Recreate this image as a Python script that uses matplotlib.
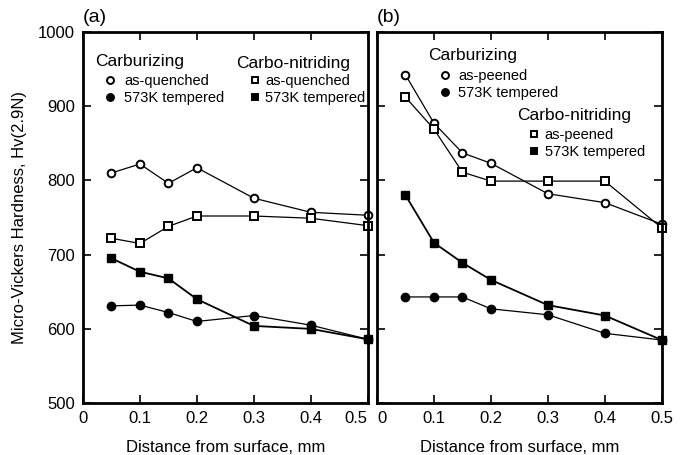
import numpy as np
import matplotlib
matplotlib.use("Agg")
import matplotlib.pyplot as plt
from matplotlib.legend import Legend

plt.rcParams['font.family'] = ['Liberation Sans', 'DejaVu Sans']

# distance from surface, mm
dist = [0.05, 0.1, 0.15, 0.2, 0.3, 0.4, 0.5]

# (a) as-quenched / tempered
a_carb_q = [810, 822, 796, 817, 776, 757, 753]
a_carb_t = [631, 632, 622, 610, 618, 605, 586]
a_cn_q = [722, 715, 738, 752, 752, 749, 739]
a_cn_t = [695, 677, 668, 640, 604, 600, 586]

# (b) as-peened / tempered
b_carb_p = [942, 877, 837, 823, 782, 770, 741]
b_carb_t = [643, 643, 643, 627, 619, 594, 585]
b_cn_p = [912, 869, 811, 799, 799, 799, 736]
b_cn_t = [780, 716, 689, 666, 632, 618, 585]

fig = plt.figure(figsize=(6.86, 4.55), dpi=100)
axa = fig.add_axes([0.121, 0.114, 0.415, 0.816])
axb = fig.add_axes([0.5496, 0.114, 0.415, 0.816])

ms = 5.5
def draw(ax, cq, ct, nq, nt):
    h1, = ax.plot(dist, cq, '-o', color='k', mfc='white', mec='k', mew=1.4, ms=ms, lw=0.9)
    h2, = ax.plot(dist, ct, '-o', color='k', mfc='k', mec='k', ms=ms + 0.5, lw=0.9)
    h3, = ax.plot(dist, nq, '-s', color='k', mfc='white', mec='k', mew=1.4, ms=ms, lw=0.9)
    h4, = ax.plot(dist, nt, '-s', color='k', mfc='k', mec='k', ms=ms + 0.5, lw=1.3)
    return h1, h2, h3, h4

ha = draw(axa, a_carb_q, a_carb_t, a_cn_q, a_cn_t)
hb = draw(axb, b_carb_p, b_carb_t, b_cn_p, b_cn_t)

for ax in (axa, axb):
    ax.set_xlim(0, 0.5)
    ax.set_ylim(500, 1000)
    ax.set_xticks([0, 0.1, 0.2, 0.3, 0.4, 0.5])
    ax.set_xticklabels(['0', '0.1', '0.2', '0.3', '0.4', '0.5'])
    ax.set_yticks([500, 600, 700, 800, 900, 1000])
    ax.tick_params(direction='in', top=True, right=True, length=6, width=1.2,
                   labelsize=12, pad=6)
    for sp in ax.spines.values():
        sp.set_linewidth(2)
    for ln in ax.get_lines():
        ln.set_clip_on(False)
    ax.set_xlabel('Distance from surface, mm', fontsize=12, labelpad=10)

axb.set_yticklabels([])
axa.set_ylabel('Micro-Vickers Hardness, Hv(2.9N)', fontsize=12, labelpad=8)
axa.text(0.0, 1.015, '(a)', transform=axa.transAxes, fontsize=14, va='bottom')
axb.text(0.0, 1.015, '(b)', transform=axb.transAxes, fontsize=14, va='bottom')

# keep "0.5" of (a) and "0" of (b) apart, as in the original
axa.get_xticklabels()[-1].set_ha('right')
axb.get_xticklabels()[0].set_ha('left')

def leg(ax, handles, labels, title, tpos, anchor, pad):
    ax.text(tpos[0], tpos[1], title, transform=ax.transAxes, fontsize=12.5, va='center', ha='left')
    hs = []
    for h in handles:
        m = plt.Line2D([], [], ls='none', marker=h.get_marker(), mfc=h.get_mfc(),
                       mec='k', mew=1.4, ms=ms - 0.5)
        hs.append(m)
    lg = Legend(ax, hs, labels, loc='upper left', bbox_to_anchor=anchor,
                frameon=False, fontsize=10.5, handlelength=0.8,
                handletextpad=pad, labelspacing=0.2, borderpad=0, borderaxespad=0)
    ax.add_artist(lg)
    return lg

leg(axa, ha[:2], ['as-quenched', '573K tempered'], 'Carburizing', (0.042, 0.919), (0.074, 0.886), 0.6)
leg(axa, ha[2:], ['as-quenched', '573K tempered'], 'Carbo-nitriding', (0.537, 0.916), (0.582, 0.886), 0.35)
leg(axb, hb[:2], ['as-peened', '573K tempered'], 'Carburizing', (0.179, 0.935), (0.218, 0.900), 0.5)
leg(axb, hb[2:], ['as-peened', '573K tempered'], 'Carbo-nitriding', (0.491, 0.776), (0.53, 0.741), 0.35)

fig.savefig('out.png', dpi=100)
